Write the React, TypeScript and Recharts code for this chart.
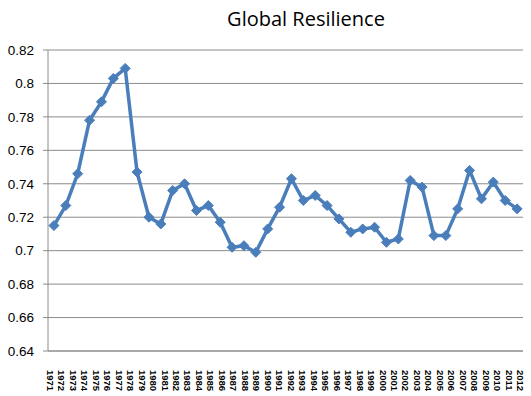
import React from "react";
import { LineChart, Line, XAxis, YAxis, CartesianGrid } from "recharts";

const yearLabels: string[] = [
  "1971","1972","1973","1974","1975","1976","1977","1978","1979","1980",
  "1981","1982","1983","1984","1985","1986","1987","1988","1989","1990",
  "1991","1992","1993","1994","1995","1996","1997","1998","1999","2000",
  "2001","2002","2003","2004","2005","2006","2007","2008","2009","2010",
  "2011","2012",
];

const resilience: number[] = [
  0.715, 0.727, 0.746, 0.778, 0.789, 0.803, 0.809, 0.747, 0.72, 0.716,
  0.736, 0.74, 0.724, 0.727, 0.717, 0.702, 0.703, 0.699, 0.713, 0.726,
  0.743, 0.73, 0.733, 0.727, 0.719, 0.711, 0.713, 0.714, 0.705, 0.707,
  0.742, 0.738, 0.709, 0.709, 0.725, 0.748, 0.731, 0.741, 0.73, 0.725,
];

const yTicks: number[] = [0.64, 0.66, 0.68, 0.7, 0.72, 0.74, 0.76, 0.78, 0.8, 0.82];

const data = resilience.map((v, i) => ({ pos: i + 0.5, value: v }));
const labelTicks = yearLabels.map((_, i) => i);

const Diamond = (props: any) => {
  const { cx, cy } = props;
  if (cx == null || cy == null) return null;
  const r = 5;
  return (
    <polygon
      points={`${cx},${cy - r} ${cx + r},${cy} ${cx},${cy + r} ${cx - r},${cy}`}
      fill="#4A7EBB"
      stroke="#4A7EBB"
      strokeWidth={1}
    />
  );
};

const YearTick = (props: any) => {
  const { x, y, payload } = props;
  const label = yearLabels[Math.round(payload.value)] ?? "";
  const ty = y + 11;
  return (
    <text
      x={x}
      y={ty}
      transform={`rotate(90, ${x}, ${ty})`}
      textAnchor="start"
      dominantBaseline="central"
      fontFamily="Liberation Sans, Arial, sans-serif"
      fontSize={9.5}
      fontWeight="bold"
      fill="#000"
    >
      {label}
    </text>
  );
};

export default function App() {
  return (
    <div style={{ position: "absolute", left: 0, top: 0, width: 531, height: 396, background: "#fff" }}>
      <div
        style={{
          position: "absolute",
          left: 0,
          top: 5,
          width: 612,
          textAlign: "center",
          fontFamily: "Open Sans, sans-serif",
          fontSize: 20,
          color: "#000",
          lineHeight: "28px",
        }}
      >
        Global Resilience
      </div>
      <LineChart
        width={531}
        height={396}
        data={data}
        margin={{ top: 50, right: 8, left: 0, bottom: 0 }}
      >
        <CartesianGrid xAxisId="data" vertical={false} stroke="#8c8c8c" strokeWidth={1} />
        <XAxis
          xAxisId="lab"
          dataKey="pos"
          type="number"
          domain={[-0.2, 41.2]}
          allowDataOverflow
          ticks={labelTicks}
          interval={0}
          tick={<YearTick />}
          tickLine={false}
          axisLine={{ stroke: "#8c8c8c" }}
          height={45}
        />
        <XAxis
          xAxisId="data"
          dataKey="pos"
          type="number"
          domain={[0, 40]}
          allowDataOverflow
          hide
          height={0}
        />
        <YAxis
          domain={[0.64, 0.82]}
          ticks={yTicks}
          interval={0}
          width={48}
          allowDataOverflow
          axisLine={{ stroke: "#8c8c8c" }}
          tickLine={{ stroke: "#8c8c8c" }}
          tickSize={5}
          tickMargin={9}
          tick={{ fill: "#000", fontSize: 13.5, fontFamily: "Liberation Sans, Arial, sans-serif" }}
          tickFormatter={(v: number) => String(v)}
        />
        <Line
          xAxisId="data"
          type="linear"
          dataKey="value"
          stroke="#4A7EBB"
          strokeWidth={3.5}
          dot={<Diamond />}
          activeDot={false}
          isAnimationActive={false}
        />
      </LineChart>
    </div>
  );
}
